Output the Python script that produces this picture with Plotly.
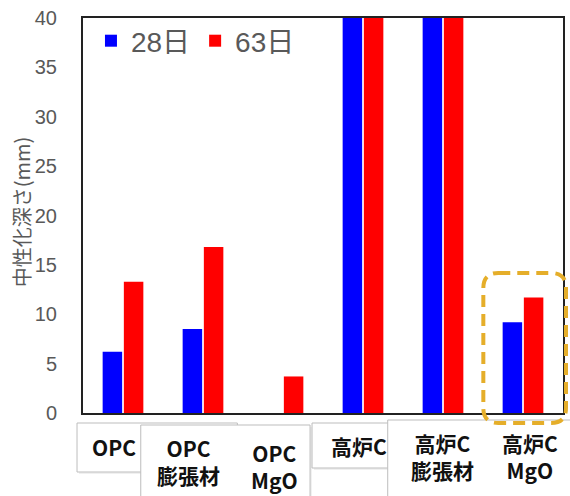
import plotly.graph_objects as go

# Mix names (two-line labels use <br>)
categories = ["OPC", "OPC<br>膨張材", "OPC<br>MgO", "高炉C", "高炉C<br>膨張材", "高炉C<br>MgO"]
series_names = ["28日", "63日"]
depth_28d = [6.2, 8.5, None, 40, 40, 9.2]
depth_63d = [13.3, 16.8, 3.7, 40, 40, 11.7]
y_ticks = [0, 5, 10, 15, 20, 25, 30, 35, 40]

W, H = 570, 496
L, R, T, B = 83, 5, 18, 83
PW, PH = W - L - R, H - T - B


def px(x):
    return (x - L) / PW


def py(y):
    return (H - B - y) / PH


fig = go.Figure()
fig.add_bar(name=series_names[0], x=categories, y=depth_28d,
            marker=dict(color="#0000FF", line=dict(width=0)))
fig.add_bar(name=series_names[1], x=categories, y=depth_63d,
            marker=dict(color="#FF0000", line=dict(width=0)))

shapes = []
# label boxes under the category axis
for (x0, y0, x1, y1) in [(77, 423, 238, 472), (141, 425, 311, 505),
                         (313, 423, 400, 468), (389, 420, 580, 505)]:
    shapes.append(dict(type="rect", xref="paper", yref="paper",
                       x0=px(x0) + 0.004, x1=px(x1) + 0.004,
                       y0=py(y1) - 0.005, y1=py(y0) - 0.005,
                       line=dict(width=0), fillcolor="rgba(0,0,0,0.06)"))
    shapes.append(dict(type="rect", xref="paper", yref="paper",
                       x0=px(x0), x1=px(x1), y0=py(y1), y1=py(y0),
                       line=dict(color="#BDBDBD", width=1), fillcolor="white"))

# dashed rounded highlight around the last group
bx0, bx1, by0, by1 = px(485), px(568), py(423), py(273)
rx, ry = 15 / PW, 15 / PH
path = (f"M {bx0+rx},{by1} L {bx1-rx},{by1} Q {bx1},{by1} {bx1},{by1-ry} "
        f"L {bx1},{by0+ry} Q {bx1},{by0} {bx1-rx},{by0} "
        f"L {bx0+rx},{by0} Q {bx0},{by0} {bx0},{by0+ry} "
        f"L {bx0},{by1-ry} Q {bx0},{by1} {bx0+rx},{by1} Z")
shapes.append(dict(type="path", xref="paper", yref="paper", path=path,
                   line=dict(color="#E5AE2A", width=4, dash="12px,7px")))

label_shift = [-9, -15, -9, -4, -1, 7]
label_y = [447, 461, 466, 446, 457, 457]
annotations = []
for cat, dx, yy in zip(categories, label_shift, label_y):
    annotations.append(dict(x=cat, xref="x", y=py(yy), yref="paper",
                            text=f"<b>{cat}</b>", showarrow=False, xshift=dx,
                            xanchor="center", yanchor="middle", align="center",
                            font=dict(family="Noto Sans CJK JP", size=21, color="#111111")))
annotations.append(dict(x=px(22), y=py(212), xref="paper", yref="paper",
                        text="中性化深さ(mm)", textangle=-90, showarrow=False,
                        xanchor="center", yanchor="middle",
                        font=dict(family="Noto Sans CJK JP", size=20, color="#595959")))

fig.update_layout(
    width=W, height=H,
    margin=dict(l=L, r=R, t=T, b=B),
    paper_bgcolor="white", plot_bgcolor="white",
    barmode="group", bargap=0.47, bargroupgap=0.08,
    showlegend=True,
    legend=dict(orientation="h", x=px(91), y=py(16), xanchor="left", yanchor="top",
                bgcolor="rgba(0,0,0,0)",
                font=dict(family="Liberation Sans, Noto Sans CJK JP", size=28, color="#595959")),
    shapes=shapes,
    annotations=annotations,
    font=dict(family="Liberation Sans, Noto Sans CJK JP"),
)
fig.update_xaxes(showticklabels=False, showgrid=False, ticks="",
                 showline=True, linecolor="#222222", linewidth=2, mirror=True)
fig.update_yaxes(range=[0, 40], tickvals=y_ticks, showgrid=False, zeroline=False,
                 ticks="", ticklabelstandoff=20,
                 tickfont=dict(family="Liberation Sans", size=20, color="#595959"),
                 showline=True, linecolor="#222222", linewidth=2, mirror=True)

fig.write_html("out.html")
